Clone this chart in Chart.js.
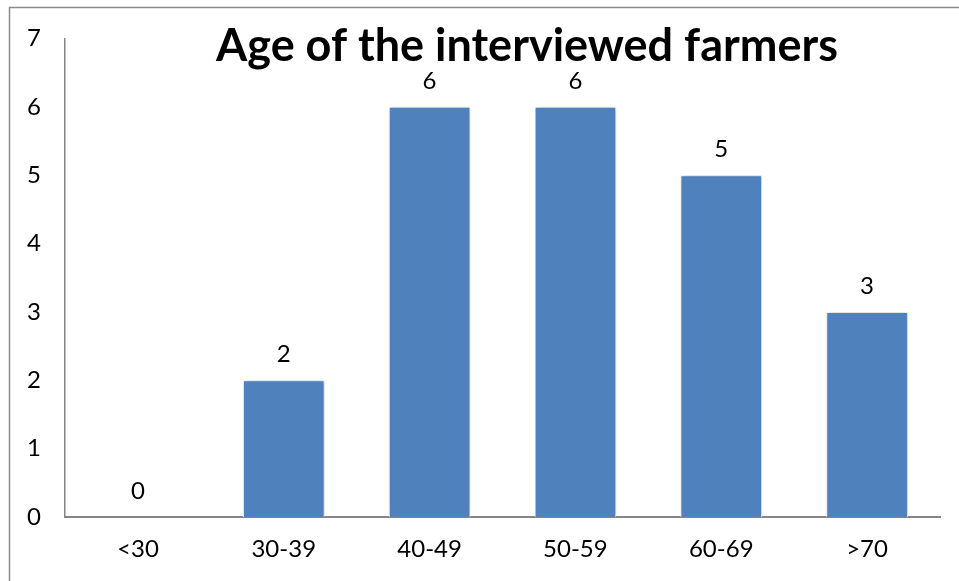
<!DOCTYPE html>
<html>
<head>
<meta charset="utf-8">
<script src="https://cdn.jsdelivr.net/npm/chart.js@4"></script>
<style>
  html, body { margin: 0; padding: 0; background: #fff; }
  #wrap { width: 959px; height: 581px; position: relative; }
</style>
</head>
<body>
<div id="wrap"><canvas id="ageChart"></canvas></div>
<script>
const chartTitle = 'Age of the interviewed farmers';
const ageGroups = ['<30', '30-39', '40-49', '50-59', '60-69', '>70'];
const farmerCounts = [0, 2, 6, 6, 5, 3];
const yMax = 7;

const barBlue = '#4F81BD';
const textFont = 'Lato, "Liberation Sans", sans-serif';

// frame + overlay title + value labels
const decorPlugin = {
    id: 'decor',
    beforeDatasetsDraw(chart) {
        const ctx = chart.ctx;
        ctx.save();
        ctx.shadowColor = 'rgba(0,0,0,0.3)';
        ctx.shadowBlur = 5;
        ctx.shadowOffsetX = 1;
        ctx.shadowOffsetY = 0;
    },
    afterDatasetsDraw(chart) {
        const ctx = chart.ctx;
        ctx.restore();

        const meta = chart.getDatasetMeta(0);
        ctx.save();
        ctx.fillStyle = '#000';
        ctx.font = '24px ' + textFont;
        ctx.textAlign = 'center';
        ctx.textBaseline = 'alphabetic';
        meta.data.forEach((bar, i) => {
            ctx.fillText(String(farmerCounts[i]), bar.x, bar.y - 18);
        });
        ctx.restore();
    },
    afterDraw(chart) {
        const ctx = chart.ctx;
        ctx.save();
        ctx.strokeStyle = '#8a8a8a';
        ctx.lineWidth = 1.5;
        ctx.beginPath();
        ctx.moveTo(9.5, 581);
        ctx.lineTo(9.5, 7.5);
        ctx.lineTo(959, 7.5);
        ctx.stroke();

        ctx.fillStyle = '#000';
        ctx.font = 'bold 45px ' + textFont;
        ctx.textAlign = 'center';
        ctx.textBaseline = 'alphabetic';
        ctx.fillText(chartTitle, 527, 61);
        ctx.restore();
    }
};

const ctx = document.getElementById('ageChart').getContext('2d');
new Chart(ctx, {
    type: 'bar',
    data: {
        labels: ageGroups,
        datasets: [{
            data: farmerCounts,
            backgroundColor: barBlue,
            borderColor: '#ffffff',
            borderWidth: 1,
            categoryPercentage: 1,
            barPercentage: 0.56
        }]
    },
    options: {
        responsive: true,
        maintainAspectRatio: false,
        animation: false,
        layout: { padding: { left: 9, top: 38, right: 19, bottom: 0 } },
        plugins: {
            legend: { display: false },
            title: { display: false },
            tooltip: { enabled: false }
        },
        scales: {
            x: {
                grid: { display: false, drawTicks: false },
                border: { display: true, color: '#868686', width: 2 },
                ticks: { color: '#000', padding: 18, font: { family: textFont, size: 24 } },
                afterFit(scale) { scale.height = 64; }
            },
            y: {
                min: 0,
                max: yMax,
                grid: { display: false, drawTicks: false },
                border: { display: true, color: '#868686', width: 1.5 },
                ticks: {
                    stepSize: 1,
                    color: '#000',
                    padding: 24,
                    font: { family: textFont, size: 24 }
                },
                afterFit(scale) { scale.width = 56; }
            }
        }
    },
    plugins: [decorPlugin]
});
</script>
</body>
</html>
